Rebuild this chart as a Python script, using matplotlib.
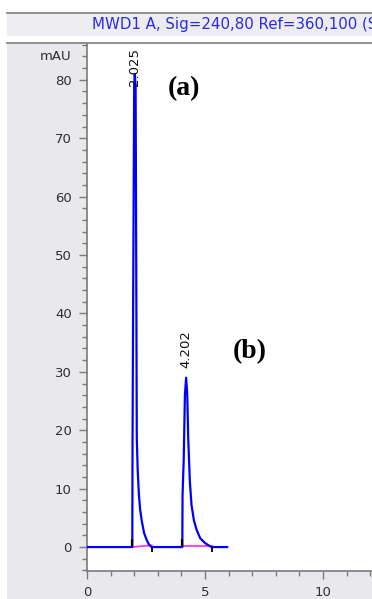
import matplotlib
matplotlib.use("Agg")
import matplotlib.pyplot as plt
from matplotlib.patches import Rectangle
from matplotlib.lines import Line2D
from matplotlib.ticker import MultipleLocator

# chromatogram trace (time in min, signal in mAU)
time = [0.0, 1.92, 1.93, 1.96, 2.00, 2.025, 2.06, 2.09, 2.11, 2.15, 2.20, 2.25,
        2.32, 2.42, 2.53, 2.63, 2.74,
        4.04, 4.05, 4.10, 4.15, 4.202, 4.25, 4.29, 4.36, 4.43, 4.53, 4.65,
        4.80, 5.00, 5.15, 5.28, 5.94]
signal = [0.0, 0.0, 17.8, 45.0, 79.0, 81.0, 79.0, 45.0, 18.7, 13.0, 9.0, 6.5,
          4.5, 2.4, 1.2, 0.4, 0.0,
          0.0, 8.9, 15.0, 26.0, 29.0, 26.0, 18.7, 11.2, 7.2, 4.6, 2.9,
          1.5, 0.7, 0.3, 0.0, 0.0]

# integration baselines and retention times
peak_start = [1.92, 4.04]
peak_end = [2.74, 5.28]
base_start = [0.0, 0.2]
base_end = [0.3, 0.2]
rt_labels = ["2.025", "4.202"]
rt_x = [2.0, 4.18]
rt_top = [85.5, 37.2]

title = "MWD1 A, Sig=240,80 Ref=360,100 (S"

W, H = 372, 599
fig = plt.figure(figsize=(W / 100, H / 100), dpi=100)
fig.patch.set_facecolor("#e9e8ed")

# white margins at top and left
fig.patches.append(Rectangle((0, (H - 12) / H), 1, 12 / H, transform=fig.transFigure,
                             facecolor="white", edgecolor="none", zorder=0))
fig.patches.append(Rectangle((0, 0), 7 / W, 1, transform=fig.transFigure,
                             facecolor="white", edgecolor="none", zorder=0))
# title bar
fig.patches.append(Rectangle((7 / W, (H - 36) / H), 1, 23 / H, transform=fig.transFigure,
                             facecolor="#ececf1", edgecolor="none", zorder=0))
fig.patches.append(Rectangle((7 / W, (H - 42) / H), 1, 6 / H, transform=fig.transFigure,
                             facecolor="white", edgecolor="none", zorder=0))
for yy in [12.8, 42.5]:
    fig.lines.append(Line2D([7 / W, 1], [(H - yy) / H] * 2, transform=fig.transFigure,
                            color="#8a8a8a", lw=1.3))
fig.text(92 / W, (H - 24) / H, title, color="#2a2ae6", fontsize=10.8,
         family="DejaVu Sans", va="center", ha="left")

ax = fig.add_axes([87 / W, (H - 571) / H, (W - 87) / W, (571 - 43) / H])
ax.set_facecolor("white")
ax.set_xlim(0, 12.08)
ax.set_ylim(-4.1, 86.3)

ax.plot(time, signal, color="#0000ff", lw=1.6, zorder=3)
for s, e, b0, b1 in zip(peak_start, peak_end, base_start, base_end):
    ax.plot([s, e], [b0, b1], color="#ff33ff", lw=1.3, zorder=2)
    ax.vlines(s, 0, 1.3, color="black", lw=1.6, zorder=4)
    ax.vlines(e, -0.9, 0, color="black", lw=1.3, zorder=4)

for lab, x, y in zip(rt_labels, rt_x, rt_top):
    ax.text(x, y, lab, rotation=90, fontsize=9.5, family="DejaVu Sans",
            ha="center", va="top", color="#111111")

ax.text(4.13, 78.5, "(a)", fontsize=20, fontweight="bold", family="Liberation Serif",
        ha="center", va="center")
ax.text(6.89, 33.4, "(b)", fontsize=20, fontweight="bold", family="Liberation Serif",
        ha="center", va="center")

for side in ["top", "right"]:
    ax.spines[side].set_visible(False)
for side in ["left", "bottom"]:
    ax.spines[side].set_color("#7a7a7a")
    ax.spines[side].set_linewidth(1.2)

ax.xaxis.set_major_locator(MultipleLocator(5))
ax.xaxis.set_minor_locator(MultipleLocator(1))
ax.yaxis.set_major_locator(MultipleLocator(10))
ax.yaxis.set_minor_locator(MultipleLocator(2))
ax.set_yticks(range(0, 81, 10))
ax.tick_params(which="major", length=6, width=1, color="#7a7a7a",
               labelsize=9.5, labelcolor="#2e2e2e")
ax.tick_params(which="minor", length=3.5, width=1, color="#7a7a7a")
ax.tick_params(axis="x", pad=5)
ax.tick_params(axis="y", pad=5)
for lbl in ax.get_xticklabels() + ax.get_yticklabels():
    lbl.set_family("DejaVu Sans")
ax.text(-0.65, 84, "mAU", fontsize=9.5, family="DejaVu Sans", color="#2e2e2e",
        ha="right", va="center", transform=ax.transData, clip_on=False)

fig.savefig("out.png", dpi=100, facecolor=fig.get_facecolor())
